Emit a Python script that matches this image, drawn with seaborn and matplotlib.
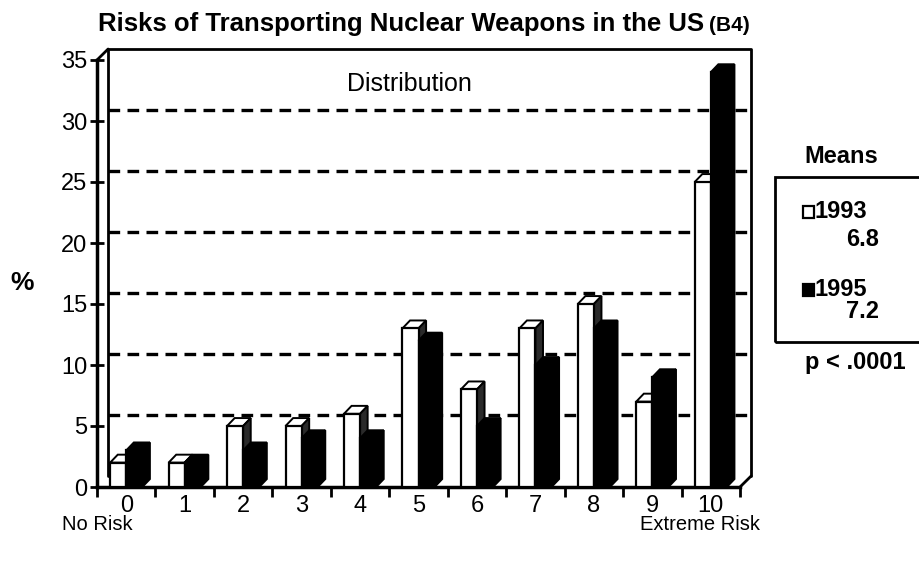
import numpy as np
import pandas as pd
import seaborn as sns
from matplotlib import pyplot as plt
from matplotlib.patches import Polygon, Rectangle

# values (percent of respondents)
ratings = [str(i) for i in range(11)]
pct_1993 = [2, 2, 5, 5, 6, 13, 8, 13, 15, 7, 25]
pct_1995 = [3, 2, 3, 4, 4, 12, 5, 10, 13, 9, 34]
years = ['1993', '1995']
means = ['6.8', '7.2']
grid_values = [5, 10, 15, 20, 25, 30]

df = pd.DataFrame({
    'rating': ratings * 2,
    'pct': pct_1993 + pct_1995,
    'year': [years[0]] * len(ratings) + [years[1]] * len(ratings),
})

sns.set_style('white')
plt.rcParams['font.family'] = ['Liberation Sans', 'DejaVu Sans']
plt.rcParams['text.color'] = 'black'
plt.rcParams['xtick.color'] = 'black'
plt.rcParams['ytick.color'] = 'black'

W, H = 919, 561
fig = plt.figure(figsize=(W / 100, H / 100), dpi=100)
ax = fig.add_axes([97 / W, 1 - 487 / H, 643 / W, 427 / H])


def fx(px):
    return px / W


def fy(py):
    return 1 - py / H


# wall depth (back wall offset) and bar depth, in data units
wall_dx, wall_dy = 0.19, 0.9
bar_dx, bar_dy = 0.13, 0.65

sns.barplot(data=df, x='rating', y='pct', hue='year', order=ratings,
            palette={'1993': 'white', '1995': 'black'}, edgecolor='black',
            linewidth=1.6, width=0.55, dodge=True, legend=False, ax=ax)

ax.set_xlim(-0.5, 10.5)
ax.set_ylim(0, 35)

# fake 3D: top and side faces built from each bar
for bar in ax.patches:
    x, w, h = bar.get_x(), bar.get_width(), bar.get_height()
    is_white = bar.get_facecolor()[0] > 0.5
    bar.set_zorder(3)
    z = 2.5 if is_white else 3.5
    top = Polygon([(x, h), (x + bar_dx, h + bar_dy), (x + w + bar_dx, h + bar_dy), (x + w, h)],
                  closed=True, facecolor='white' if is_white else 'black',
                  edgecolor='black', lw=1.4, zorder=z, clip_on=False)
    side = Polygon([(x + w, 0), (x + w + bar_dx, bar_dy), (x + w + bar_dx, h + bar_dy), (x + w, h)],
                   closed=True, facecolor='#2a2a2a' if is_white else 'black',
                   edgecolor='black', lw=1.4, zorder=z, clip_on=False)
    ax.add_patch(top)
    ax.add_patch(side)

# back wall with dashed grid
ax.hlines([v + wall_dy for v in grid_values], -0.5 + wall_dx, 10.5 + wall_dx,
          colors='black', linestyles=(0, (3.5, 2.2)), lw=2.4, zorder=1, clip_on=False)
ax.plot([-0.5 + wall_dx, -0.5 + wall_dx, 10.5 + wall_dx, 10.5 + wall_dx],
        [wall_dy, 35 + wall_dy, 35 + wall_dy, wall_dy], color='black', lw=2, zorder=1, clip_on=False)
ax.plot([-0.5, -0.5 + wall_dx], [35, 35 + wall_dy], color='black', lw=2, clip_on=False)
ax.plot([10.5, 10.5 + wall_dx], [0, wall_dy], color='black', lw=2, clip_on=False)

for side_name in ['top', 'right']:
    ax.spines[side_name].set_visible(False)
for side_name in ['left', 'bottom']:
    ax.spines[side_name].set_linewidth(2.5)
    ax.spines[side_name].set_color('black')

ax.set_xlabel('')
ax.set_ylabel('')
ax.set_yticks(range(0, 36, 5))
ax.tick_params(axis='y', direction='inout', length=10, width=2, labelsize=17, pad=2, left=True)
ax.set_xticks(range(11))
ax.set_xticklabels(ratings)
ax.set_xticks(np.arange(-0.5, 11, 1), minor=True)
ax.tick_params(axis='x', which='major', length=0, labelsize=17, pad=6)
ax.tick_params(axis='x', which='minor', direction='out', length=7, width=2, bottom=True)

# titles and notes
title = fig.text(fx(98), fy(31), 'Risks of Transporting Nuclear Weapons in the US',
                 fontsize=18.5, fontweight='bold', va='baseline')
fig.canvas.draw()
bb = title.get_window_extent()
fig.text(bb.x1 / W + 0.005, fy(31), '(B4)', fontsize=15, fontweight='bold', va='baseline')

ax.text(4.85, 33, 'Distribution', fontsize=18, ha='center', va='center')
fig.text(fx(22), fy(283), '%', fontsize=19, fontweight='bold', ha='center', va='center')
fig.text(fx(62), fy(525), 'No Risk', fontsize=14.5, ha='left', va='center')
fig.text(fx(760), fy(525), 'Extreme Risk', fontsize=14.5, ha='right', va='center')

# means box
fig.add_artist(Rectangle((fx(775), fy(342)), fx(960) - fx(775), fy(177) - fy(342),
                         transform=fig.transFigure, fill=False, lw=2, edgecolor='black'))
fig.text(fx(841), fy(157), 'Means', fontsize=17, fontweight='bold', ha='center', va='center')
label_y = [212, 290]
mean_y = [239, 311]
for i, (yr, m) in enumerate(zip(years, means)):
    fig.add_artist(Rectangle((fx(803), fy(label_y[i] + 6)), fx(11), fy(0) - fy(12),
                             transform=fig.transFigure, lw=1.6, edgecolor='black',
                             facecolor='white' if i == 0 else 'black'))
    fig.text(fx(814), fy(label_y[i]), yr, fontsize=17, fontweight='bold', ha='left', va='center')
    fig.text(fx(879), fy(mean_y[i]), m, fontsize=17, fontweight='bold', ha='right', va='center')
fig.text(fx(855), fy(362), 'p < .0001', fontsize=17, fontweight='bold', ha='center', va='center')

fig.savefig('out.png', dpi=100)
